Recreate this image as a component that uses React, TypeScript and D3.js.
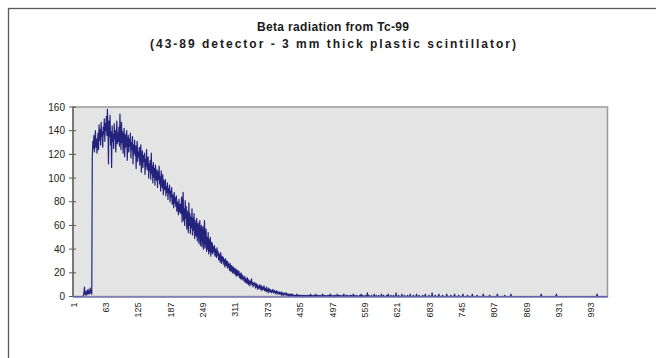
import React from "react";
import * as d3 from "d3";

// Counts per channel
const lowChannels = [
  0, 0, 0, 0, 0, 0, 0, 0, 0, 0, 0, 0, 0, 0, 0, 0, 0, 0, 0, 1,
  3, 8, 2, 4, 1, 3, 5, 2, 6, 3, 2, 4, 7, 3, 5, 2,
];

const peakChannels = [
  118, 131, 125, 136, 122, 128, 140, 126, 133, 121,
  130, 138, 124, 145, 132, 141, 128, 147, 135, 139,
  126, 143, 137, 150, 131, 146, 140, 152, 136, 158,
  142, 112, 148, 135, 153, 128, 139, 109, 144, 131,
  137, 125, 146, 133, 140, 122, 136, 148, 129, 138,
  131, 143, 127, 154, 135, 124, 147, 130, 139, 121,
  134, 142, 118, 137, 126, 131, 140, 115, 129, 136,
  122, 133, 127, 138, 117, 130, 124, 135, 112, 128,
  121, 132, 119, 127, 108, 125, 131, 114, 122, 118,
  126, 111, 120, 128, 105, 117, 123, 109, 119, 114,
  121, 103, 116, 110, 124, 107, 113, 118, 100, 112,
  106, 115, 99, 121, 104, 110, 96, 113, 101, 108,
  94, 111, 103, 98, 107, 92, 105, 99, 110, 95,
  101, 89, 106, 97, 92, 103, 86, 98, 94, 90,
  99, 85, 93, 88, 96, 82, 91, 87, 94, 80,
  89, 84, 92, 78, 86, 81, 75, 88, 79, 83,
  76, 85, 72, 80, 77, 69, 82, 74, 71, 78,
];

const declineChannels = [
  70, 84, 63, 76, 88, 64, 74, 60, 81, 66,
  76, 57, 72, 64, 54, 79, 60, 70, 53, 67,
  58, 74, 52, 66, 56, 70, 49, 64, 55, 51,
  66, 47, 59, 62, 45, 57, 64, 43, 55, 60,
  42, 54, 59, 40, 52, 64, 41, 51, 57, 38,
  50, 40, 54, 36, 48, 38, 50, 34, 46, 37,
  45, 36, 42, 38, 43, 34, 40, 37, 33, 41,
  35, 38, 31, 36, 33, 29, 37, 32, 28, 34,
  30, 33, 27, 31, 25, 32, 28, 26, 30, 24,
  29, 25, 27, 22, 28, 24, 21, 26, 23, 20,
  25, 22, 19, 24, 21, 18, 23, 17, 20, 22,
  18, 21, 16, 19, 15, 20, 17, 14, 18, 15,
  16, 13, 17, 12, 15, 14, 11, 16, 13, 10,
  14, 12, 9, 13, 11, 15, 10, 12, 8, 11,
  10, 12, 9, 7, 11, 8, 10, 6, 9, 8,
  7, 10, 6, 8, 9, 5, 7, 8, 6, 9,
  5, 7, 6, 4, 8, 5, 6, 3, 7, 5,
  4, 6, 5, 3, 5, 4, 6, 3, 4, 5,
  3, 4, 2, 5, 3, 4, 2, 3, 4, 2,
  3, 2, 4, 1, 3, 2, 3, 1, 2, 3,
  2, 1, 3, 2, 1, 2, 0, 2, 1, 2,
  1, 2, 0, 1, 2, 1, 0, 1, 1, 0,
  1, 0, 2, 1, 0, 1, 0, 1, 0, 1,
  0, 1, 0, 0, 1, 0, 1, 0, 0, 1,
  0, 0, 1, 0,
];

const tailChannels = [
  0,1,0,0,2,0,1,0,0,1,0,0,1,0,2,0,0,1,0,0,
  1,0,0,1,0,0,0,2,0,1,0,0,1,0,0,0,1,0,0,1,
  0,0,2,0,0,1,0,0,0,1,0,1,0,0,0,2,0,0,1,0,
  0,1,0,0,0,1,0,0,2,0,0,0,1,0,0,1,0,0,0,1,
  0,0,1,0,0,0,2,0,0,1,0,0,0,1,0,0,0,0,1,0,
  0,2,0,0,1,0,0,0,0,1,0,0,0,3,0,0,1,0,0,0,
  0,1,0,0,0,0,2,0,0,0,1,0,0,0,0,1,0,0,0,0,
  2,0,0,0,1,0,0,0,0,0,1,0,0,2,0,0,0,0,1,0,
  0,0,0,1,0,0,0,0,3,0,0,0,0,1,0,0,0,0,0,2,
  0,0,0,0,1,0,0,0,0,0,1,0,0,0,0,2,0,0,0,0,
  0,1,0,0,0,0,0,2,0,0,0,0,1,0,0,0,0,0,0,1,
  0,0,0,0,2,0,0,0,0,0,0,1,0,0,0,0,0,3,0,0,
  0,0,0,1,0,0,0,0,0,0,2,0,0,0,0,0,0,1,0,0,
  0,0,0,0,0,2,0,0,0,0,0,0,0,1,0,0,0,0,0,0,
  2,0,0,0,0,0,0,0,1,0,0,0,0,0,0,0,2,0,0,0,
  0,0,0,0,0,1,0,0,0,0,0,0,0,0,2,0,0,0,0,0,
  0,0,0,1,0,0,0,0,0,0,0,0,0,0,0,2,0,0,0,0,
  0,0,0,0,0,0,0,1,0,0,0,0,0,0,0,0,0,0,0,0,
  0,0,2,0,0,0,0,0,0,0,0,0,0,0,0,0,1,0,0,0,
  0,0,0,0,0,0,0,0,2,0,0,0,0,0,0,0,0,0,0,0,
  0,0,0,0,0,0,0,0,0,0,0,0,0,0,0,0,0,0,0,0,
  0,0,0,0,0,0,0,0,0,0,0,0,0,0,0,0,0,0,0,0,
  0,0,0,0,0,0,2,0,0,0,0,0,0,0,0,0,0,0,0,0,
  0,0,0,0,0,0,0,0,0,0,0,0,0,0,0,2,0,0,0,0,
  0,0,0,0,0,0,0,0,0,0,0,0,0,0,0,0,0,0,0,0,
  0,0,0,0,0,0,0,0,0,0,0,0,0,0,0,0,0,0,0,0,
  0,0,0,0,0,0,0,0,0,0,0,0,0,0,0,0,0,0,0,0,
  0,0,0,0,0,0,0,0,0,0,0,0,0,2,0,0,0,0,0,0,
  0,0,0,0,0,0,0,0,0,0,0,0,0,0,
];

const xTickLabels = [1, 63, 125, 187, 249, 311, 373, 435, 497, 559, 621, 683, 745, 807, 869, 931, 993];
const yTicks = [0, 20, 40, 60, 80, 100, 120, 140, 160];
const titleLines = [
  "Beta radiation from Tc-99",
  "(43-89 detector - 3 mm thick plastic scintillator)",
];

const counts = [...lowChannels, ...peakChannels, ...declineChannels, ...tailChannels];
const channels = counts.map((_, i) => i + 1);

export default function App() {
  const W = 656;
  const H = 358;
  const plot = { left: 73, right: 607.5, top: 107, bottom: 296.5 };

  const x = d3
    .scalePoint<number>()
    .domain(channels)
    .range([plot.left + 0.5, plot.right]);
  const y = d3.scaleLinear().domain([0, 160]).range([plot.bottom, plot.top]);

  const line = d3
    .line<number>()
    .x((_, i) => x(channels[i]) as number)
    .y((d) => y(d));

  const font = "'Liberation Sans', Arial, sans-serif";
  const titleWidths = [152, 366];

  return (
    <svg
      width={W}
      height={H}
      style={{ position: "absolute", left: 0, top: 0, background: "#fff" }}
    >
      {/* outer chart frame */}
      <rect x={8.5} y={8.5} width={700} height={400} fill="#fff" stroke="#5a5a5a" strokeWidth={1.3} />

      {/* title */}
      {titleLines.map((t, i) => (
        <text
          key={i}
          x={333}
          y={31 + i * 17}
          textAnchor="middle"
          fontFamily={font}
          fontWeight="bold"
          fontSize={12}
          textLength={titleWidths[i]}
          lengthAdjust="spacing"
          fill="#1a1a1a"
        >
          {t}
        </text>
      ))}

      {/* plot area */}
      <rect
        x={plot.left}
        y={plot.top}
        width={plot.right - plot.left}
        height={plot.bottom - plot.top}
        fill="#e4e4e4"
        stroke="#9a9a9a"
        strokeWidth={1.5}
      />

      {/* y ticks and labels */}
      {yTicks.map((t) => (
        <g key={t}>
          <line x1={plot.left - 4} x2={plot.left + 3} y1={y(t)} y2={y(t)} stroke="#555" strokeWidth={1} />
          <text
            x={plot.left - 8}
            y={y(t)}
            dy="0.35em"
            textAnchor="end"
            fontFamily={font}
            fontSize={10}
            fill="#222"
          >
            {t}
          </text>
        </g>
      ))}

      {/* data line */}
      <path d={line(counts) || ""} fill="none" stroke="#23237e" strokeWidth={1.2} strokeLinejoin="round" />

      {/* axes */}
      <line x1={plot.left} x2={plot.left} y1={plot.top} y2={plot.bottom} stroke="#666" strokeWidth={1.5} />
      <line x1={plot.left} x2={plot.right} y1={plot.bottom + 0.5} y2={plot.bottom + 0.5} stroke="#7a7ab8" strokeWidth={1.5} />

      {/* x labels */}
      {xTickLabels.map((c) => {
        const px = x(c) as number;
        const py = plot.bottom + 6;
        return (
          <text
            key={c}
            transform={`translate(${px},${py}) rotate(-90)`}
            dy="0.35em"
            textAnchor="end"
            fontFamily={font}
            fontSize={9}
            fill="#222"
          >
            {c}
          </text>
        );
      })}
    </svg>
  );
}
